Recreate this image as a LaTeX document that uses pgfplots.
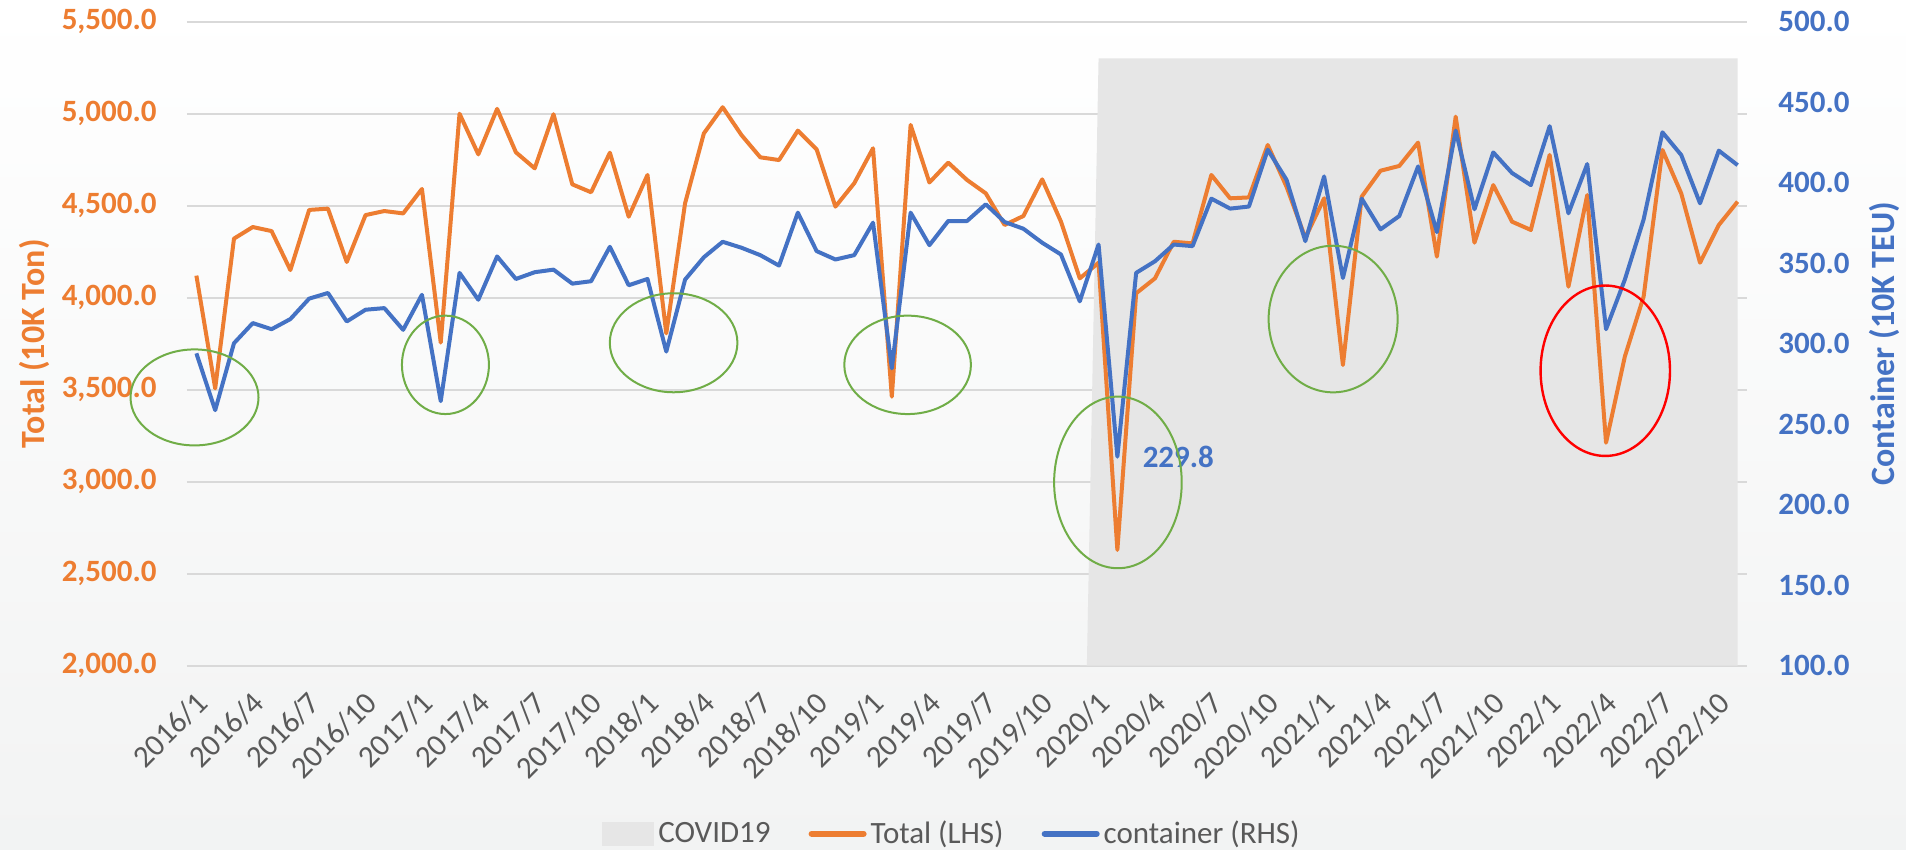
\documentclass[border=0pt]{standalone}
\usepackage{fontspec}
\setmainfont{Carlito}
\usepackage{pgfplots}
\pgfplotsset{compat=1.18}
\usepackage{pgfplotstable}
\definecolor{cOrange}{HTML}{ED7D31}
\definecolor{cBlue}{HTML}{4472C4}
\definecolor{cGrey}{HTML}{595959}
\definecolor{cGrid}{HTML}{D9D9D9}
\definecolor{cCovid}{HTML}{E6E6E6}
\definecolor{cGreen}{HTML}{70AD47}
\definecolor{cBgB}{HTML}{F2F3F3}

\pgfplotstableread{
idx total container
0 4120 294.0
1 3507 258.7
2 4321 300.3
3 4384 312.8
4 4362 309.0
5 4150 315.3
6 4477 328.0
7 4484 331.5
8 4194 313.8
9 4449 321.1
10 4471 322.1
11 4458 308.6
12 4591 330.4
13 3756 264.3
14 5000 344.0
15 4779 327.3
16 5026 354.2
17 4790 340.2
18 4703 344.4
19 4997 346.0
20 4616 337.3
21 4573 338.8
22 4788 360.2
23 4440 336.3
24 4667 340.2
25 3806 295.1
26 4513 339.8
27 4893 353.7
28 5035 363.3
29 4884 359.6
30 4763 355.0
31 4748 348.5
32 4908 381.4
33 4806 357.5
34 4495 352.3
35 4622 355.0
36 4812 375.2
37 3462 284.7
38 4939 381.4
39 4626 361.2
40 4734 376.2
41 4640 376.2
42 4567 386.6
43 4395 375.6
44 4444 371.4
45 4643 362.7
46 4413 355.4
47 4105 326.3
48 4190 361.6
49 2629 229.8
50 4024 344.0
51 4105 351.2
52 4304 361.6
53 4295 360.6
54 4667 390.1
55 4540 383.9
56 4545 385.2
57 4830 420.5
58 4603 401.8
59 4325 363.7
60 4540 403.9
61 3634 340.8
62 4549 390.1
63 4690 371.0
64 4716 379.3
65 4843 410.1
66 4223 369.3
67 4984 432.4
68 4299 383.5
69 4612 418.8
70 4413 406.0
71 4368 398.5
72 4776 435.1
73 4060 381.0
74 4558 411.6
75 3212 309.0
76 3680 339.8
77 4006 377.2
78 4803 431.3
79 4567 417.2
80 4190 387.2
81 4395 419.9
82 4522 410.9
}\data

\pgfplotsset{
  common/.style={
    scale only axis, width=780pt, height=322pt,
    at={(0pt,0pt)}, anchor=south west,
    xmin=-0.5, xmax=82.5,
    major tick length=0pt,
    axis line style={draw=none},
    /pgf/number format/fixed,
    /pgf/number format/fixed zerofill,
    /pgf/number format/precision=1,
    /pgf/number format/1000 sep={,},
    /pgf/number format/assume math mode=true,
  },
}

\begin{document}
\begin{tikzpicture}
\shade[use as bounding box, top color=white, bottom color=cBgB] (-93.5pt,-92.15pt) rectangle (859.5pt,332.85pt);

\begin{axis}[
  common,
  ymin=2000, ymax=5500,
  ytick={2000,2500,...,5500},
  xtick={0,3,...,81},
  xticklabels={2016/1,2016/4,2016/7,2016/10,2017/1,2017/4,2017/7,2017/10,2018/1,2018/4,2018/7,2018/10,2019/1,2019/4,2019/7,2019/10,2020/1,2020/4,2020/7,2020/10,2021/1,2021/4,2021/7,2021/10,2022/1,2022/4,2022/7,2022/10},
  ymajorgrids,
  grid style={cGrid, line width=1pt},
  yticklabel style={font=\fontsize{15.5}{18}\selectfont\bfseries, text=cOrange, inner sep=0pt, anchor=east, xshift=-15pt},
  xticklabel style={font=\fontsize{15.5}{18}\selectfont, text=cGrey, inner sep=0pt, anchor=east, xshift=3pt, yshift=-16pt, rotate=45},
  ylabel={Total (10K Ton)},
  ylabel style={at={(axis description cs:-0.098,0.5)}, anchor=center, font=\fontsize{17}{20}\selectfont\bfseries, text=cOrange},
  legend style={at={(axis description cs:0.491,-0.261)}, anchor=center, draw=none, fill=none,
    font=\fontsize{15.5}{18}\selectfont, text=cGrey,
    /tikz/every even column/.append style={column sep=17pt}},
  legend columns=3,
  legend cell align=left,
]
\addplot[fill=cCovid, draw=none,
  legend image code/.code={\fill[cCovid] (0pt,-6pt) rectangle (26pt,6pt);}]
  coordinates {(47,0) (48,5300) (82,5300)} \closedcycle;
\addlegendentry{COVID19}
\addplot[cOrange, line width=2pt, line join=round,
  legend image code/.code={\draw[cOrange, line width=3pt, line cap=round] (0pt,0pt) -- (26pt,0pt);}]
  table[x=idx, y=total] {\data};
\addlegendentry{Total (LHS)}
\addlegendimage{legend image code/.code={\draw[cBlue, line width=3pt, line cap=round] (0pt,0pt) -- (26pt,0pt);}}
\addlegendentry{container (RHS)}
\coordinate (e1) at (axis cs:-0.1,3458);
\coordinate (e2) at (axis cs:13.25,3635);
\coordinate (e3) at (axis cs:25.39,3755);
\coordinate (e4) at (axis cs:37.84,3635);
\coordinate (e5) at (axis cs:49.03,2996);
\coordinate (e6) at (axis cs:60.48,3884);
\coordinate (e7) at (axis cs:74.96,3603);
\end{axis}

\begin{axis}[
  common,
  ymin=100, ymax=500,
  ytick={100,150,...,500},
  axis x line=none,
  axis y line*=right,
  yticklabel style={font=\fontsize{15.5}{18}\selectfont\bfseries, text=cBlue, inner sep=0pt, anchor=west, xshift=15.5pt},
  ylabel={Container (10K TEU)},
  ylabel style={at={(axis description cs:1.088,0.5)}, anchor=center, rotate=0, font=\fontsize{17}{20}\selectfont\bfseries, text=cBlue},
]
\addplot[cBlue, line width=2pt, line join=round] table[x=idx, y=container] {\data};
\node[anchor=west, inner sep=0pt, xshift=12.5pt, text=cBlue, font=\fontsize{15.5}{18}\selectfont\bfseries] at (axis cs:49,229.8) {229.8};
\end{axis}

\draw[cGreen, line width=1pt] (e1) ellipse [x radius=32pt, y radius=24pt];
\draw[cGreen, line width=1pt] (e2) ellipse [x radius=21.75pt, y radius=24.6pt];
\draw[cGreen, line width=1pt] (e3) ellipse [x radius=31.9pt, y radius=24.75pt];
\draw[cGreen, line width=1pt] (e4) ellipse [x radius=31.65pt, y radius=24.6pt];
\draw[cGreen, line width=1pt] (e5) ellipse [x radius=31.9pt, y radius=42.9pt];
\draw[cGreen, line width=1pt] (e6) ellipse [x radius=32.25pt, y radius=36.65pt];
\draw[red, line width=1.2pt] (e7) ellipse [x radius=32.35pt, y radius=42.6pt];
\end{tikzpicture}
\end{document}
